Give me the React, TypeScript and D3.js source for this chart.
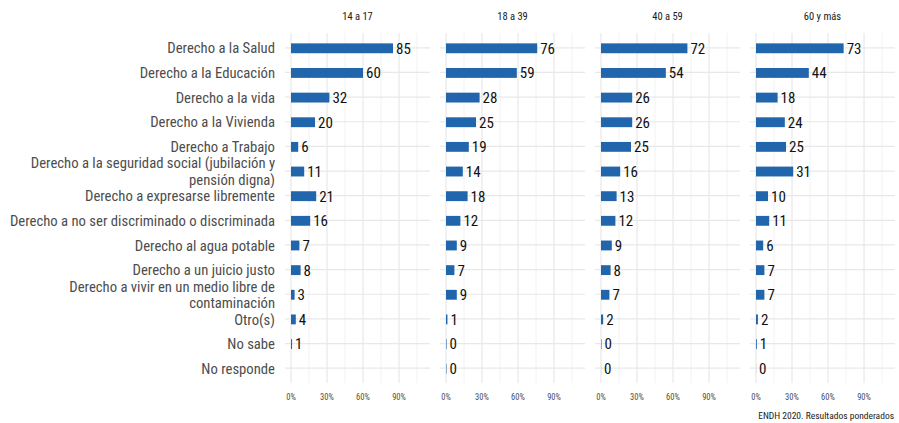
import React from "react";
import * as d3 from "d3";

// categories, top to bottom
const categories = [
  ["Derecho a la Salud"],
  ["Derecho a la Educación"],
  ["Derecho a la vida"],
  ["Derecho a la Vivienda"],
  ["Derecho a Trabajo"],
  ["Derecho a la seguridad social (jubilación y", "pensión digna)"],
  ["Derecho a expresarse libremente"],
  ["Derecho a no ser discriminado o discriminada"],
  ["Derecho al agua potable"],
  ["Derecho a un juicio justo"],
  ["Derecho a vivir en un medio libre de", "contaminación"],
  ["Otro(s)"],
  ["No sabe"],
  ["No responde"],
];

const groups = ["14 a 17", "18 a 39", "40 a 59", "60 y más"];

// percentages per age group (null = no answer recorded)
const v14a17 = [85, 60, 32, 20, 6, 11, 21, 16, 7, 8, 3, 4, 0.9, null];
const v18a39 = [76, 59, 28, 25, 19, 14, 18, 12, 9, 7, 9, 1.2, 0.45, 0.4];
const v40a59 = [72, 54, 26, 26, 25, 16, 13, 12, 9, 8, 7, 1.8, 0.4, 0.05];
const v60ymas = [73, 44, 18, 24, 25, 31, 10, 11, 6, 7, 7, 1.6, 0.7, 0.05];

const series = [v14a17, v18a39, v40a59, v60ymas];

const xTicks = [0, 30, 60, 90];
const xMinor = [15, 45, 75, 105];

const caption = "ENDH 2020. Resultados ponderados";

const FONT = "'Roboto Condensed', 'Liberation Sans Narrow', 'DejaVu Sans Condensed', Roboto, sans-serif";

export default function App() {
  const W = 899;
  const H = 423;
  const panelLeft = 285;
  const panelW = 145;
  const gap = 10;
  const top = 33;
  const bottom = 383;

  const keys = categories.map((c) => c.join(" "));

  const y = d3.scalePoint<string>().domain(keys).range([top, bottom]).padding(0.6);
  const barH = y.step() * 0.4;
  const x = d3.scaleLinear().domain([-5, 115.8]).range([0, panelW]);

  return (
    <svg width={W} height={H} style={{ position: "absolute", left: 0, top: 0, fontFamily: FONT }}>
      <rect width={W} height={H} fill="#fff" />

      {/* y labels */}
      {categories.map((lines, i) => {
        const cy = y(keys[i])! + 0.5;
        const lh = 16.5;
        const y0 = cy - ((lines.length - 1) * lh) / 2;
        return (
          <text key={i} x={275} textAnchor="end" fontSize={14.7} fill="#4d4d4d">
            {lines.map((l, j) => (
              <tspan key={j} x={275} y={y0 + j * lh} dy="0.35em">
                {l}
              </tspan>
            ))}
          </text>
        );
      })}

      {groups.map((g, p) => {
        const px = panelLeft + p * (panelW + gap);
        const vals = series[p];
        return (
          <g key={g} transform={`translate(${px},0)`}>
            <text x={panelW / 2} y={16} dy="0.35em" textAnchor="middle" fontSize={10.5} fill="#1a1a1a">
              {g}
            </text>
            {xMinor.map((t) => (
              <line key={"m" + t} x1={x(t)} x2={x(t)} y1={top} y2={bottom} stroke="#efefef" strokeWidth={0.8} />
            ))}
            {xTicks.map((t) => (
              <line key={"M" + t} x1={x(t)} x2={x(t)} y1={top} y2={bottom} stroke="#e8e8e8" strokeWidth={1.2} />
            ))}
            {keys.map((k) => (
              <line key={k} x1={0} x2={panelW} y1={y(k)} y2={y(k)} stroke="#e8e8e8" strokeWidth={1.2} />
            ))}
            {xTicks.map((t) => (
              <text key={"t" + t} x={x(t)} y={397} dy="0.35em" textAnchor="middle" fontSize={8.5} fill="#4d4d4d">
                {t}%
              </text>
            ))}
            {vals.map((v, i) => {
              if (v === null) return null;
              const cy = y(keys[i])! + 0.5;
              return (
                <g key={i}>
                  <rect x={x(0)} y={cy - barH / 2} width={x(v) - x(0)} height={barH} fill="#2166ac" />
                  <text x={x(v) + 3} y={cy} dy="0.36em" fontSize={15} fill="#111">
                    {Math.round(v)}
                  </text>
                </g>
              );
            })}
          </g>
        );
      })}

      <text x={894} y={416} dy="0.35em" textAnchor="end" fontSize={9.5} fill="#1a1a1a">
        {caption}
      </text>
    </svg>
  );
}
